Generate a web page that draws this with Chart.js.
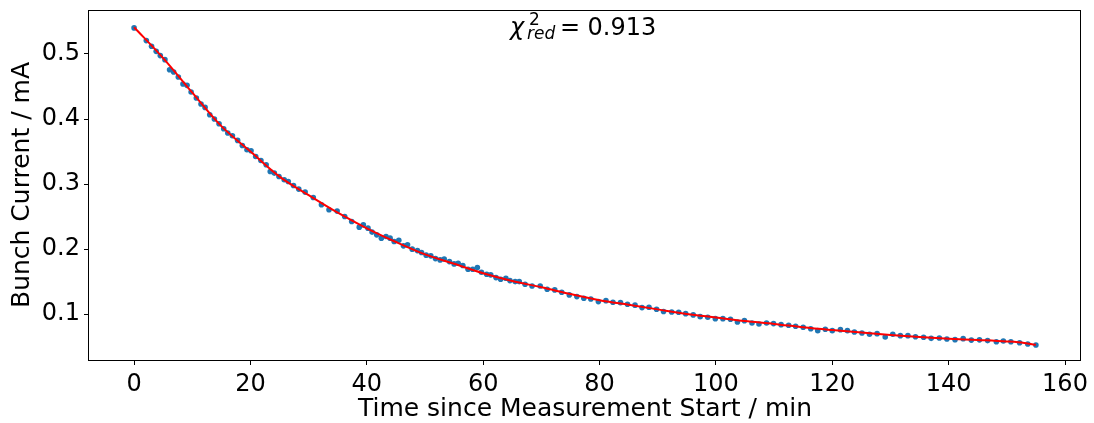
<!DOCTYPE html>
<html>
<head>
<meta charset="utf-8">
<script src="https://cdn.jsdelivr.net/npm/chart.js@4.4.1/dist/chart.umd.min.js"></script>
<style>
  html, body { margin: 0; padding: 0; background: #fff; }
  #wrap { width: 1094px; height: 423px; }
</style>
</head>
<body>
<div id="wrap"><canvas id="decayChart" width="1094" height="423"></canvas></div>
<script>
const timeMin = [
  0.0, 2.1, 3.0, 3.8, 4.5, 5.3, 6.1, 6.8, 7.6, 8.4, 9.1, 9.8, 10.7, 11.5, 12.2, 13.0,
  13.8, 14.6, 15.4, 16.1, 16.9, 17.8, 18.6, 19.4, 20.1, 20.9, 21.8, 22.7, 23.4, 24.1,
  24.9, 25.8, 26.5, 27.4, 28.3, 29.4, 30.8, 32.2, 33.5, 34.9, 36.2, 37.4, 38.7, 39.4,
  40.2, 40.9, 41.7, 42.5, 43.3, 44.0, 44.7, 45.5, 46.3, 47.0, 47.8, 48.7, 49.4, 50.2,
  51.0, 51.8, 52.6, 53.3, 54.2, 55.0, 55.7, 56.5, 57.4, 58.2, 59.0, 59.7, 60.6, 61.3,
  62.2, 63.0, 63.9, 64.6, 65.5, 66.2, 67.2, 68.4, 69.8, 71.0, 72.3, 73.5, 74.8, 76.1,
  77.3, 78.5, 79.8, 81.1, 82.3, 83.6, 84.8, 86.1, 87.3, 88.5, 89.8, 91.0, 92.4, 93.6,
  94.8, 96.1, 97.3, 98.6, 99.9, 101.2, 102.5, 103.7, 104.9, 106.2, 107.4, 108.7, 109.9,
  111.2, 112.5, 113.7, 115.0, 116.3, 117.5, 118.8, 120.0, 121.4, 122.6, 123.8, 125.1,
  126.4, 127.7, 129.1, 130.4, 131.7, 133.0, 134.3, 135.7, 137.0, 138.4, 139.7, 141.1,
  142.5, 143.9, 145.3, 146.7, 148.2, 149.4, 150.7, 152.2, 153.6, 155.0
];
const currentMA = [
  0.540, 0.5205, 0.5117, 0.504, 0.4974, 0.4912, 0.4758, 0.4723, 0.4646, 0.4538, 0.4517, 0.4415, 0.4323, 0.4231, 0.4178, 0.4066,
  0.400, 0.3928, 0.3851, 0.3785, 0.3743, 0.3671, 0.3594, 0.3528, 0.3512, 0.3425, 0.3363, 0.3297, 0.3194, 0.3169,
  0.3117, 0.3066, 0.304, 0.2978, 0.2923, 0.2877, 0.2794, 0.2682, 0.2605, 0.2585, 0.2502, 0.2425, 0.2338, 0.2374,
  0.2323, 0.2262, 0.222, 0.2169, 0.2194, 0.2169, 0.2117, 0.2138, 0.2051, 0.2066, 0.200, 0.1978, 0.1948, 0.1908,
  0.1897, 0.1855, 0.1835, 0.185, 0.1809, 0.1774, 0.1784, 0.1750, 0.1692, 0.1692, 0.1717, 0.1646, 0.1615, 0.1605,
  0.1563, 0.1538, 0.1554, 0.1517, 0.1502, 0.1502, 0.1462, 0.1435, 0.1435, 0.1385, 0.1374, 0.1338, 0.1297, 0.1271,
  0.1246, 0.1235, 0.1194, 0.1209, 0.1185, 0.1178, 0.1154, 0.1140, 0.1102, 0.1108, 0.1077, 0.1042, 0.1035, 0.103,
  0.1009, 0.099, 0.0963, 0.0954, 0.0932, 0.0932, 0.0923, 0.0882, 0.0902, 0.0866, 0.0851, 0.0866, 0.0856,
  0.0840, 0.0831, 0.0815, 0.080, 0.0778, 0.0748, 0.0769, 0.0748, 0.0763, 0.0748, 0.0728, 0.0712,
  0.0692, 0.0702, 0.0651, 0.0692, 0.0671, 0.0671, 0.0655, 0.0646, 0.063, 0.0635, 0.062, 0.061,
  0.0625, 0.0603, 0.0607, 0.0595, 0.0578, 0.0589, 0.0578, 0.0563, 0.0543, 0.0528
];

// fitted curve (red line)
const fitTime = [0, 5, 10, 15, 20, 25, 30, 35, 40, 45, 50, 55, 60, 65, 70, 75, 80, 85, 90, 95,
  100, 105, 110, 115, 120, 125, 130, 135, 140, 145, 150, 153, 155];
const fitCurrent = [0.541, 0.4935, 0.4405, 0.389, 0.350, 0.3115, 0.283, 0.256, 0.232, 0.211, 0.192,
  0.1775, 0.163, 0.151, 0.1415, 0.131, 0.1215, 0.1145, 0.1075, 0.1005, 0.095, 0.0895, 0.0852,
  0.080, 0.0757, 0.0718, 0.0683, 0.0652, 0.0625, 0.0605, 0.0582, 0.0560, 0.0530];

const xTicks = [0, 20, 40, 60, 80, 100, 120, 140, 160];
const yTicks = [0.1, 0.2, 0.3, 0.4, 0.5];

const chiLabel = { sub: 'red', sup: '2', value: '0.913' };

const FONT = 'DejaVu Sans';

// frame around the plot area + chi^2 annotation
const framePlugin = {
  id: 'frame',
  afterDraw(chart) {
    const { ctx, chartArea: a } = chart;
    ctx.save();
    ctx.strokeStyle = '#000';
    ctx.lineWidth = 1;
    ctx.strokeRect(Math.round(a.left) - 0.5, Math.round(a.top) + 0.5,
      Math.round(a.right - a.left), Math.round(a.bottom - a.top));

    const cx = (a.left + a.right) / 2;
    const base = a.top + 24.5;
    ctx.fillStyle = '#000';
    ctx.textBaseline = 'alphabetic';
    ctx.textAlign = 'left';
    ctx.font = 'italic 24px "' + FONT + '"';
    ctx.fillText('\u03c7', cx - 75, base);
    ctx.font = '17px "' + FONT + '"';
    ctx.fillText(chiLabel.sup, cx - 56, base - 9.5);
    ctx.font = 'italic 17px "' + FONT + '"';
    ctx.fillText(chiLabel.sub, cx - 58, base + 4);
    ctx.font = '24px "' + FONT + '"';
    ctx.fillText('=', cx - 25, base);
    ctx.fillText(chiLabel.value, cx + 2.5, base);
    ctx.restore();
  }
};

const ctx = document.getElementById('decayChart').getContext('2d');
new Chart(ctx, {
  type: 'scatter',
  data: {
    datasets: [
      {
        label: 'fit',
        data: fitTime.map((t, i) => ({ x: t, y: fitCurrent[i] })),
        showLine: true,
        borderColor: '#ff0000',
        borderWidth: 2,
        pointRadius: 0,
        cubicInterpolationMode: 'monotone',
        order: 0
      },
      {
        label: 'data',
        data: timeMin.map((t, i) => ({ x: t, y: currentMA[i] })),
        backgroundColor: '#1f77b4',
        borderWidth: 0,
        pointRadius: 2.8,
        order: 1
      }
    ]
  },
  options: {
    responsive: false,
    animation: false,
    layout: { padding: { top: 10, right: 13, left: 0, bottom: 0 } },
    plugins: {
      legend: { display: false },
      tooltip: { enabled: false }
    },
    scales: {
      x: {
        type: 'linear',
        min: -7.75,
        max: 162.75,
        afterFit: s => { s.height = 63; s.paddingLeft = 0; s.paddingRight = 0; },
        afterBuildTicks: s => { s.ticks = xTicks.map(v => ({ value: v })); },
        border: { display: false },
        grid: { drawOnChartArea: false, drawTicks: true, tickLength: 5, color: '#000' },
        ticks: {
          color: '#000', padding: 5, maxRotation: 0, autoSkip: false,
          font: { family: FONT, size: 24 },
          callback: v => String(v)
        },
        title: {
          display: true, text: 'Time since Measurement Start / min', color: '#000',
          font: { family: FONT, size: 25, lineHeight: 1.1 }, padding: { top: 0, bottom: 0 }
        }
      },
      y: {
        type: 'linear',
        min: 0.0297,
        max: 0.5675,
        afterFit: s => { s.width = 89; s.paddingTop = 0; s.paddingBottom = 0; },
        afterBuildTicks: s => { s.ticks = yTicks.map(v => ({ value: v })); },
        border: { display: false },
        grid: { drawOnChartArea: false, drawTicks: true, tickLength: 5, color: '#000' },
        ticks: {
          color: '#000', padding: 4, autoSkip: false,
          font: { family: FONT, size: 24 },
          callback: v => v.toFixed(1)
        },
        title: {
          display: true, text: 'Bunch Current / mA', color: '#000',
          font: { family: FONT, size: 25, lineHeight: 1.1 }, padding: { top: 9, bottom: 0 }
        }
      }
    }
  },
  plugins: [framePlugin]
});
</script>
</body>
</html>
